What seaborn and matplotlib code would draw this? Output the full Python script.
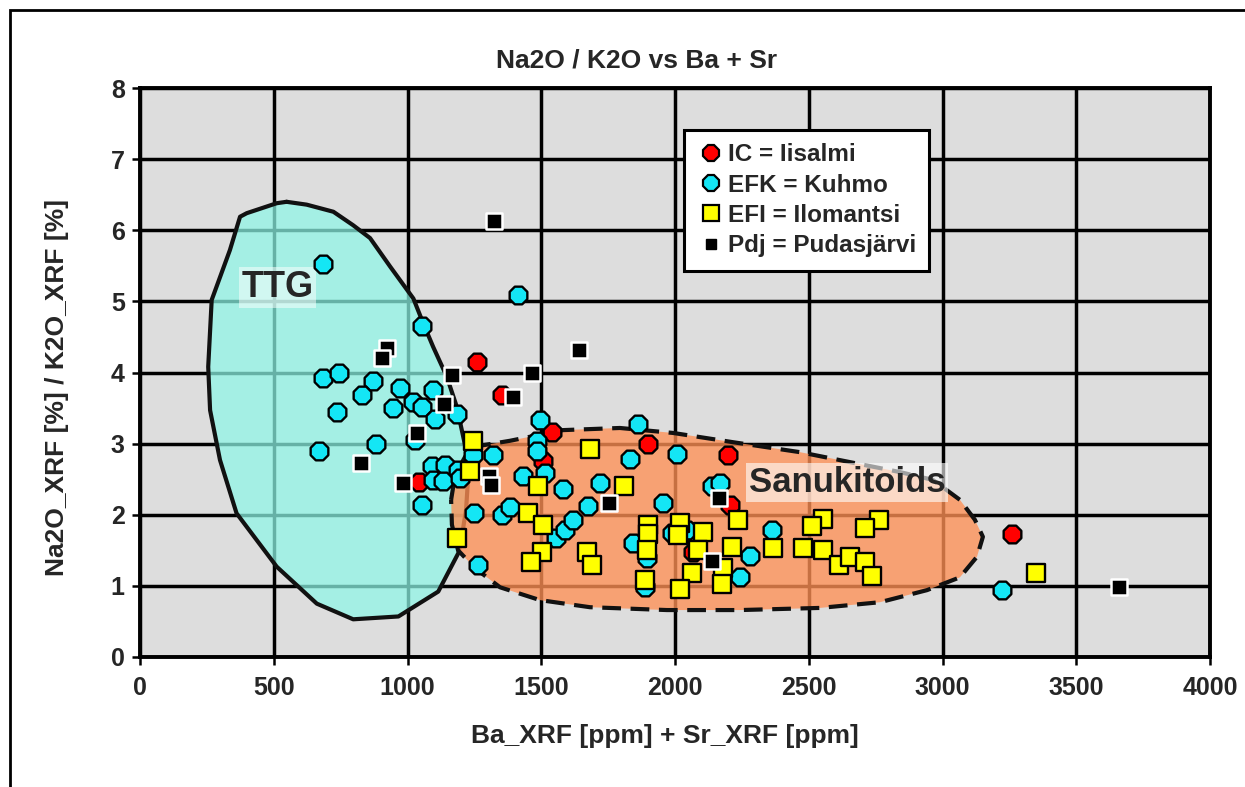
import numpy as np
import pandas as pd
import matplotlib
matplotlib.use("Agg")
import matplotlib.pyplot as plt
from matplotlib.lines import Line2D
from matplotlib.patches import Rectangle
import seaborn as sns

# ---------------- data ----------------
ic_x = [1259, 1352, 1044, 1539, 1508, 1900, 2199, 2206, 2068, 3261]
ic_y = [4.15, 3.69, 2.46, 3.17, 2.75, 3.00, 2.84, 2.14, 1.47, 1.73]

efk_x = [685, 1412, 1053, 683, 745, 872, 829, 972, 1097, 1022, 1053, 1103, 1186,
         947, 735, 1028, 882, 669, 1090, 1140, 1190, 1097, 1134, 1196, 1053,
         1495, 1483, 1483, 1321, 1246, 1433, 1514, 1580,
         1249, 1265, 1352, 1383, 1557, 1589, 1617, 1832, 1863, 2006, 1720, 1676,
         1956, 2137, 2168, 1844, 1894, 1888, 1987, 2044, 2243, 2280, 2361, 3224]
efk_y = [5.53, 5.09, 4.66, 3.92, 4.00, 3.88, 3.68, 3.78, 3.76, 3.59, 3.52, 3.35, 3.42,
         3.50, 3.45, 3.05, 3.00, 2.90, 2.68, 2.70, 2.63, 2.49, 2.47, 2.51, 2.14,
         3.33, 3.03, 2.89, 2.84, 2.84, 2.54, 2.58, 2.36,
         2.02, 1.30, 2.00, 2.11, 1.67, 1.79, 1.93, 2.79, 3.27, 2.86, 2.44, 2.12,
         2.16, 2.40, 2.44, 1.60, 1.39, 0.99, 1.74, 1.79, 1.13, 1.42, 1.78, 0.94]

efi_x = [1246, 1234, 1184, 1489, 1452, 1505, 1501, 1460, 1682, 1809, 1670, 1688,
         1900, 1900, 1894, 1888, 2019, 2012, 2106, 2087, 2062, 2019, 2181, 2174,
         2212, 2237, 2365, 2477, 2552, 2511, 2764, 2710, 2554, 2614, 2654, 2710,
         2735, 3350]
efi_y = [3.03, 2.62, 1.68, 2.41, 2.03, 1.86, 1.47, 1.33, 2.93, 2.40, 1.48, 1.29,
         1.86, 1.73, 1.50, 1.08, 1.88, 1.72, 1.76, 1.50, 1.18, 0.95, 1.25, 1.03,
         1.55, 1.92, 1.53, 1.53, 1.94, 1.84, 1.92, 1.81, 1.51, 1.30, 1.41, 1.34,
         1.14, 1.18]

pdj_x = [1323, 922, 906, 1168, 1464, 1640, 1396, 1138, 1034, 825, 984, 1304, 1312,
         1755, 2165, 2137, 3661]
pdj_y = [6.13, 4.35, 4.20, 3.96, 4.00, 4.31, 3.65, 3.56, 3.15, 2.73, 2.45, 2.54, 2.42,
         2.16, 2.23, 1.35, 0.99]

# field outlines (drawn by hand on the original diagram)
ttg_x = [548, 623, 723, 797, 860, 935, 1022, 1059, 1096, 1147, 1184, 1203, 1219,
         1226, 1219, 1204, 1190, 1115, 966, 797, 661, 511, 361, 299, 262, 255,
         268, 336, 374, 399, 511]
ttg_y = [6.40, 6.36, 6.26, 6.07, 5.89, 5.49, 5.04, 4.69, 4.36, 3.94, 3.52, 3.19, 2.91,
         2.49, 2.07, 1.72, 1.46, 0.92, 0.57, 0.53, 0.75, 1.27, 2.02, 2.77, 3.47, 4.08,
         5.02, 5.72, 6.19, 6.24, 6.38]

san_x = [1163, 1178, 1219, 1271, 1383, 1581, 1794, 1993, 2217, 2467, 2654, 2841,
         2964, 3065, 3121, 3151, 3129, 3065, 2942, 2766, 2542, 2243, 1970, 1682,
         1495, 1346, 1252, 1189, 1166]
san_y = [2.21, 2.56, 2.84, 2.97, 3.04, 3.19, 3.22, 3.15, 3.02, 2.88, 2.74, 2.60,
         2.49, 2.21, 1.93, 1.69, 1.41, 1.12, 0.94, 0.77, 0.69, 0.66, 0.66, 0.70,
         0.80, 0.98, 1.25, 1.50, 1.86]

x_ticks = [0, 500, 1000, 1500, 2000, 2500, 3000, 3500, 4000]
y_ticks = [0, 1, 2, 3, 4, 5, 6, 7, 8]

title = "Na2O / K2O vs Ba + Sr"
xlabel = "Ba_XRF [ppm] + Sr_XRF [ppm]"
ylabel = "Na2O_XRF [%] / K2O_XRF [%]"
series_labels = ["IC = Iisalmi", "EFK = Kuhmo", "EFI = Ilomantsi", "Pdj = Pudasjärvi"]

# ---------------- style ----------------
sns.set_style("white")
plt.rcParams['font.family'] = ['Liberation Sans', 'DejaVu Sans']
plt.rcParams['font.weight'] = 'bold'

fig = plt.figure(figsize=(12.45, 7.87), dpi=100)
ax = fig.add_axes([140 / 1245, 1 - 657 / 787, 1070 / 1245, 569 / 787])
ax.set_facecolor('#dddddd')
ax.set_axisbelow(True)

ax.set_xlim(0, 4000)
ax.set_ylim(0, 8)
ax.set_xticks(x_ticks)
ax.set_yticks(y_ticks)
ax.grid(True, color='black', linewidth=2.5)
for s in ax.spines.values():
    s.set_linewidth(2.8)
    s.set_color('black')
ax.tick_params(axis='both', direction='out', length=6, width=1.8, labelsize=18,
               color='black', bottom=True, left=True)
ax.tick_params(axis='y', pad=5)
ax.tick_params(axis='x', pad=8)
for lab in ax.get_xticklabels() + ax.get_yticklabels():
    lab.set_fontweight('bold')

# fields
ax.fill(ttg_x, ttg_y, facecolor='#8ef7e7', alpha=0.72, edgecolor='none', zorder=1)
ax.plot(ttg_x + ttg_x[:1], ttg_y + ttg_y[:1], color='#111111', lw=3, zorder=1.1,
        solid_joinstyle='round')
ax.fill(san_x, san_y, facecolor='#ff9055', alpha=0.78, edgecolor='none', zorder=1.2)
ax.plot(san_x + san_x[:1], san_y + san_y[:1], color='#111111', lw=3, zorder=1.3,
        linestyle=(0, (4.5, 2.3)))

ax.text(514, 5.20, "TTG", fontsize=26, fontweight='bold', ha='center', va='center',
        zorder=1.5, bbox=dict(facecolor='white', alpha=0.5, edgecolor='none', pad=2))
ax.text(2643, 2.45, "Sanukitoids", fontsize=25, fontweight='bold', ha='center',
        va='center', zorder=1.5,
        bbox=dict(facecolor='white', alpha=0.6, edgecolor='none', pad=2))

# points
sns.scatterplot(x=ic_x, y=ic_y, ax=ax, marker='8', s=190, color='#ff0000',
                edgecolor='black', linewidth=1.7, zorder=3)
sns.scatterplot(x=efk_x, y=efk_y, ax=ax, marker='8', s=190, color='#14e6f5',
                edgecolor='black', linewidth=1.7, zorder=3.1)
sns.scatterplot(x=efi_x, y=efi_y, ax=ax, marker='s', s=150, color='#ffff00',
                edgecolor='black', linewidth=1.7, zorder=3.2)
sns.scatterplot(x=pdj_x, y=pdj_y, ax=ax, marker='s', s=120, color='black',
                edgecolor='white', linewidth=1.8, zorder=3.3)

ax.set_xlabel(xlabel, fontsize=19, fontweight='bold')
ax.xaxis.set_label_coords(0.4907, -0.118)
ax.set_ylabel(ylabel, fontsize=19, fontweight='bold')
ax.yaxis.set_label_coords(-0.066, 0.473)
fig.text(637 / 1245, 1 - 60 / 787, title, fontsize=19, fontweight='bold',
         ha='center', va='center')

handles = [
    Line2D([], [], marker='8', linestyle='none', markersize=13, markerfacecolor='#ff0000',
           markeredgecolor='black', markeredgewidth=1.6),
    Line2D([], [], marker='8', linestyle='none', markersize=13, markerfacecolor='#14e6f5',
           markeredgecolor='black', markeredgewidth=1.6),
    Line2D([], [], marker='s', linestyle='none', markersize=11, markerfacecolor='#ffff00',
           markeredgecolor='black', markeredgewidth=1.6),
    Line2D([], [], marker='s', linestyle='none', markersize=7, markerfacecolor='black',
           markeredgecolor='black'),
]
leg = ax.legend(handles, series_labels, loc='upper left',
                bbox_to_anchor=(684 / 1245, 1 - 130 / 787), bbox_transform=fig.transFigure,
                frameon=True, fancybox=False, framealpha=1, edgecolor='black',
                prop={'size': 17.5, 'weight': 'bold'}, borderpad=0.55, labelspacing=0.3,
                handlelength=1.1, handletextpad=0.15, borderaxespad=0)
leg.get_frame().set_linewidth(2.2)
leg.set_zorder(5)

# outer frame of the figure (top and left edges visible)
fig.add_artist(Rectangle((10 / 1245, -0.2), 1.5, 1.2 - 10 / 787, fill=False,
                         edgecolor='black', linewidth=2, transform=fig.transFigure))

fig.savefig("out.png", dpi=100)
